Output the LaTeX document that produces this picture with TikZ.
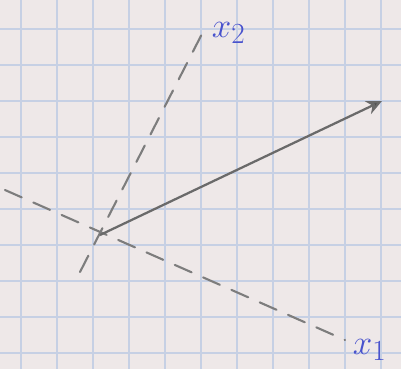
\documentclass[tikz,border=0pt]{standalone}
\usepackage{amsmath}
\usepackage{tikz}
\usetikzlibrary{arrows.meta, calc}

\definecolor{paper}{RGB}{238,232,232}
\definecolor{gridblue}{RGB}{198,208,228}
\definecolor{pencil}{RGB}{125,125,125}
\definecolor{ink}{RGB}{72,82,205}

\begin{document}
\begin{tikzpicture}[
    x=0.025cm, y=-0.025cm,
    axis/.style={pencil, line width=1.5pt, line cap=round, dash pattern=on 13pt off 9pt},
    vector/.style={pencil!85!black, line width=1.6pt, -{Stealth[length=11pt,width=10pt,fill=pencil!60!black]}},
    label/.style={ink, font=\fontsize{30}{30}\selectfont}
]

% paper and grid
\fill[paper] (0,0) rectangle (401,369);
\useasboundingbox (0,0) rectangle (401,369);
\foreach \gx in {21,57,...,381}
    \draw[gridblue, line width=1pt] (\gx,0) -- (\gx,369);
\foreach \gy in {29,65,...,353}
    \draw[gridblue, line width=1pt] (0,\gy) -- (401,\gy);

\coordinate (O) at (100,235);
\coordinate (tip) at (382,101);
\coordinate (x1start) at (5,190);
\coordinate (x1end) at (345,340);
\coordinate (x2start) at (80,272);
\coordinate (x2end) at (205,28);

\node (labelone) [label, anchor=west] at (348,350) {$x_1$};
\node (labeltwo) [label, anchor=west] at (207,33) {$x_2$};

\draw [axis] (x1start) -- (x1end);
\draw [axis] (x2start) -- (x2end);
\draw [vector] (O) -- (tip);

\end{tikzpicture}
\end{document}
